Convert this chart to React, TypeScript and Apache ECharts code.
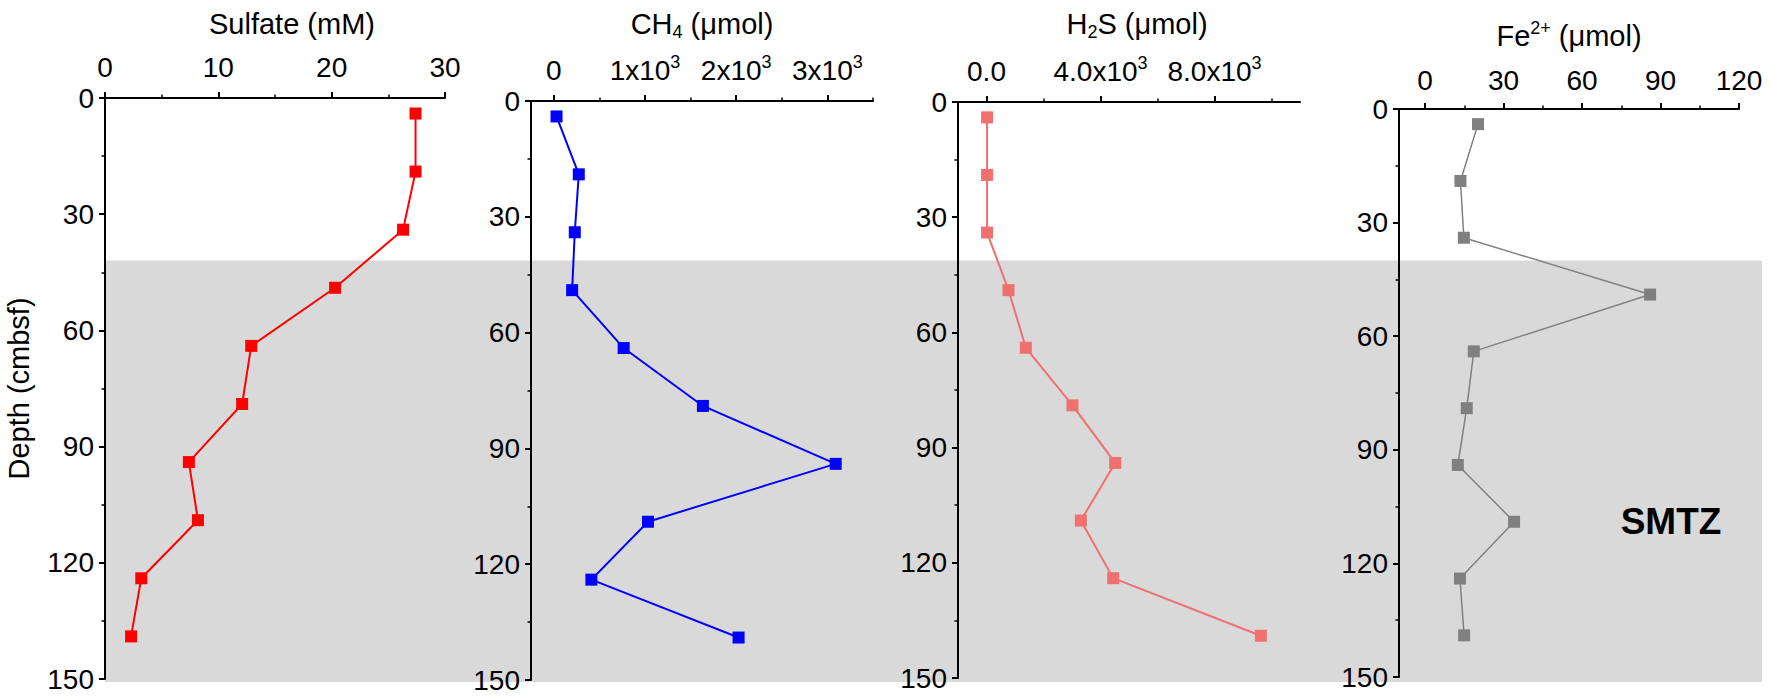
import React, { useEffect, useRef } from "react";
import * as echarts from "echarts";

// ---------------- data ----------------
const depths = [4, 19, 34, 49, 64, 79, 94, 109, 124, 139];
const sulfate = [27.4, 27.4, 26.3, 20.3, 12.9, 12.1, 7.4, 8.2, 3.2, 2.3];
const methane = [30, 274, 230, 201, 766, 1635, 3091, 1033, 412, 2026];
const sulfide = [20, 20, 20, 772, 1380, 3018, 4515, 3310, 4444, 9626];
const ferrous = [20.2, 13.5, 14.8, 86, 18.6, 15.9, 12.5, 34.0, 13.3, 14.9];

const depthTicks = [0, 30, 60, 90, 120, 150];

const sulfateTicks = [0, 10, 20, 30];
const sulfateTickLabels = ["0", "10", "20", "30"];
const sulfateMinor = [5, 15, 25];

const methaneTicks = [0, 1000, 2000, 3000];
const methaneTickLabels = ["0", "1x10^3", "2x10^3", "3x10^3"];
const methaneMinor = [500, 1500, 2500, 3500];

const sulfideTicks = [0, 4000, 8000];
const sulfideTickLabels = ["0.0", "4.0x10^3", "8.0x10^3"];
const sulfideMinor = [2000, 6000, 10000];

const ferrousTicks = [0, 30, 60, 90, 120];
const ferrousTickLabels = ["0", "30", "60", "90", "120"];
const ferrousMinor = [15, 45, 75, 105];

const smtzTop = 40;
const smtzLabel = "SMTZ";
const depthTitle = "Depth (cmbsf)";

// ---------------- layout / style ----------------
const W = 1772;
const H = 697;
const FONT = '"Liberation Sans", Arial, Helvetica, sans-serif';
const TICK_FS = 28;
const TITLE_FS = 29;
const SHADE_RIGHT = 1762;
const SMTZ_ANCHOR = [94, 109]; // in Fe panel coordinates

const richStyles = {
  sup: { fontSize: 18, lineHeight: 22, verticalAlign: "top", fontFamily: FONT, color: "#000" },
  sub: { fontSize: 18, lineHeight: 22, verticalAlign: "bottom", fontFamily: FONT, color: "#000" },
};

const toRich = (s: string) => s.replace(/\^(\S+)/, "{sup|$1}");

const panels = [
  {
    values: sulfate, color: "#ff0000", lineWidth: 2, min: 0, max: 30,
    ticks: sulfateTicks, labels: sulfateTickLabels, minor: sulfateMinor,
    title: "Sulfate (mM)", grid: { left: 105, top: 98, width: 340, height: 581 },
    nameGap: 57, namePad: [0, 0, 0, 34], labelMargin: 14,
  },
  {
    values: methane, color: "#0000ff", lineWidth: 2, min: -250, max: 3500,
    ticks: methaneTicks, labels: methaneTickLabels, minor: methaneMinor,
    title: "CH{sub|4} (μmol)", grid: { left: 531, top: 101, width: 342, height: 579 },
    nameGap: 60, namePad: [0, 0, 0, 0], labelMargin: 14,
  },
  {
    values: sulfide, color: "#f07070", lineWidth: 2, min: -1000, max: 11000,
    ticks: sulfideTicks, labels: sulfideTickLabels, minor: sulfideMinor,
    title: "H{sub|2}S (μmol)", grid: { left: 958, top: 102, width: 342, height: 576 },
    nameGap: 61, namePad: [0, 0, 0, 16], labelMargin: 14,
  },
  {
    values: ferrous, color: "#808080", lineWidth: 1.5, min: -10, max: 120,
    ticks: ferrousTicks, labels: ferrousTickLabels, minor: ferrousMinor,
    title: "Fe{sup|2+} (μmol)", grid: { left: 1399, top: 109, width: 340, height: 568 },
    nameGap: 56, namePad: [0, 0, 0, 0], labelMargin: 12,
  },
];

function buildOption() {
  const grid: any[] = [];
  const xAxis: any[] = [];
  const yAxis: any[] = [];
  const series: any[] = [];

  panels.forEach((p, i) => {
    grid.push({ ...p.grid, containLabel: false, outerBoundsMode: "none" });

    xAxis.push({
      type: "value",
      gridIndex: i,
      position: "top",
      min: p.min,
      max: p.max,
      axisLine: { show: true, onZero: false, lineStyle: { color: "#000", width: 2 } },
      axisTick: { show: true, customValues: p.ticks, length: 6, inside: false, lineStyle: { color: "#000", width: 2 } },
      axisLabel: {
        show: true,
        customValues: p.ticks,
        formatter: (v: number) => {
          const k = p.ticks.indexOf(v);
          return k >= 0 ? toRich(p.labels[k]) : "";
        },
        margin: p.labelMargin,
        fontSize: TICK_FS,
        lineHeight: 34,
        color: "#000",
        fontFamily: FONT,
        rich: richStyles,
      },
      splitLine: { show: false },
      name: p.title,
      nameLocation: "middle",
      nameGap: p.nameGap,
      nameMoveOverlap: false,
      nameTextStyle: {
        fontSize: TITLE_FS,
        lineHeight: 34,
        color: "#000",
        fontFamily: FONT,
        padding: p.namePad,
        rich: richStyles,
      },
    });
    xAxis.push({
      type: "value",
      gridIndex: i,
      position: "top",
      min: p.min,
      max: p.max,
      axisLine: { show: false, onZero: false },
      axisTick: { show: true, customValues: p.minor, length: 3.5, inside: false, lineStyle: { color: "#000", width: 1.5 } },
      axisLabel: { show: false },
      splitLine: { show: false },
    });

    yAxis.push({
      type: "value",
      gridIndex: i,
      position: "left",
      inverse: true,
      min: depthTicks[0],
      max: depthTicks[depthTicks.length - 1],
      interval: depthTicks[1] - depthTicks[0],
      axisLine: { show: true, onZero: false, lineStyle: { color: "#000", width: 2 } },
      axisTick: { show: true, length: 6, lineStyle: { color: "#000", width: 2 } },
      minorTick: { show: true, splitNumber: 2, length: 3.5, lineStyle: { color: "#000", width: 1.5 } },
      minorSplitLine: { show: false },
      splitLine: { show: false },
      axisLabel: {
        fontSize: TICK_FS,
        color: "#000",
        fontFamily: FONT,
        margin: 11,
        showMinLabel: true,
        showMaxLabel: true,
      },
      name: i === 0 ? depthTitle : "",
      nameLocation: "middle",
      nameGap: 72,
      nameRotate: 90,
      nameMoveOverlap: false,
      nameTextStyle: { fontSize: TITLE_FS, color: "#000", fontFamily: FONT },
    });

    series.push({
      type: "line",
      xAxisIndex: 2 * i,
      yAxisIndex: i,
      data: depths.map((d, k) => [p.values[k], d]),
      symbol: "rect",
      symbolSize: 12,
      showSymbol: true,
      itemStyle: { color: p.color },
      lineStyle: { color: p.color, width: p.lineWidth },
      z: 3,
      silent: true,
    });
  });

  return {
    animation: false,
    backgroundColor: "#ffffff",
    textStyle: { fontFamily: FONT },
    grid,
    xAxis,
    yAxis,
    series,
  };
}

export default function App() {
  const ref = useRef<HTMLDivElement>(null);

  useEffect(() => {
    document.body.style.margin = "0";
    if (!ref.current) return;
    const chart = echarts.init(ref.current, undefined, { renderer: "svg" });
    chart.setOption(buildOption() as any);

    const topPt = chart.convertToPixel({ seriesIndex: 3 }, [0, smtzTop]) as number[];
    const leftPt = chart.convertToPixel({ seriesIndex: 0 }, [0, 150]) as number[];
    const labelPt = chart.convertToPixel({ seriesIndex: 3 }, SMTZ_ANCHOR) as number[];

    chart.setOption({
      graphic: [
        {
          type: "rect",
          z: -10,
          silent: true,
          shape: {
            x: leftPt[0],
            y: topPt[1],
            width: SHADE_RIGHT - leftPt[0],
            height: leftPt[1] + 3 - topPt[1],
          },
          style: { fill: "#d9d9d9" },
        },
        {
          type: "text",
          z: 10,
          silent: true,
          x: labelPt[0],
          y: labelPt[1],
          style: {
            text: smtzLabel,
            fontSize: 37,
            fontWeight: "bold",
            fontFamily: FONT,
            fill: "#000",
            align: "center",
            verticalAlign: "middle",
          },
        },
      ],
    });

    return () => chart.dispose();
  }, []);

  return <div ref={ref} style={{ width: W, height: H }} />;
}
